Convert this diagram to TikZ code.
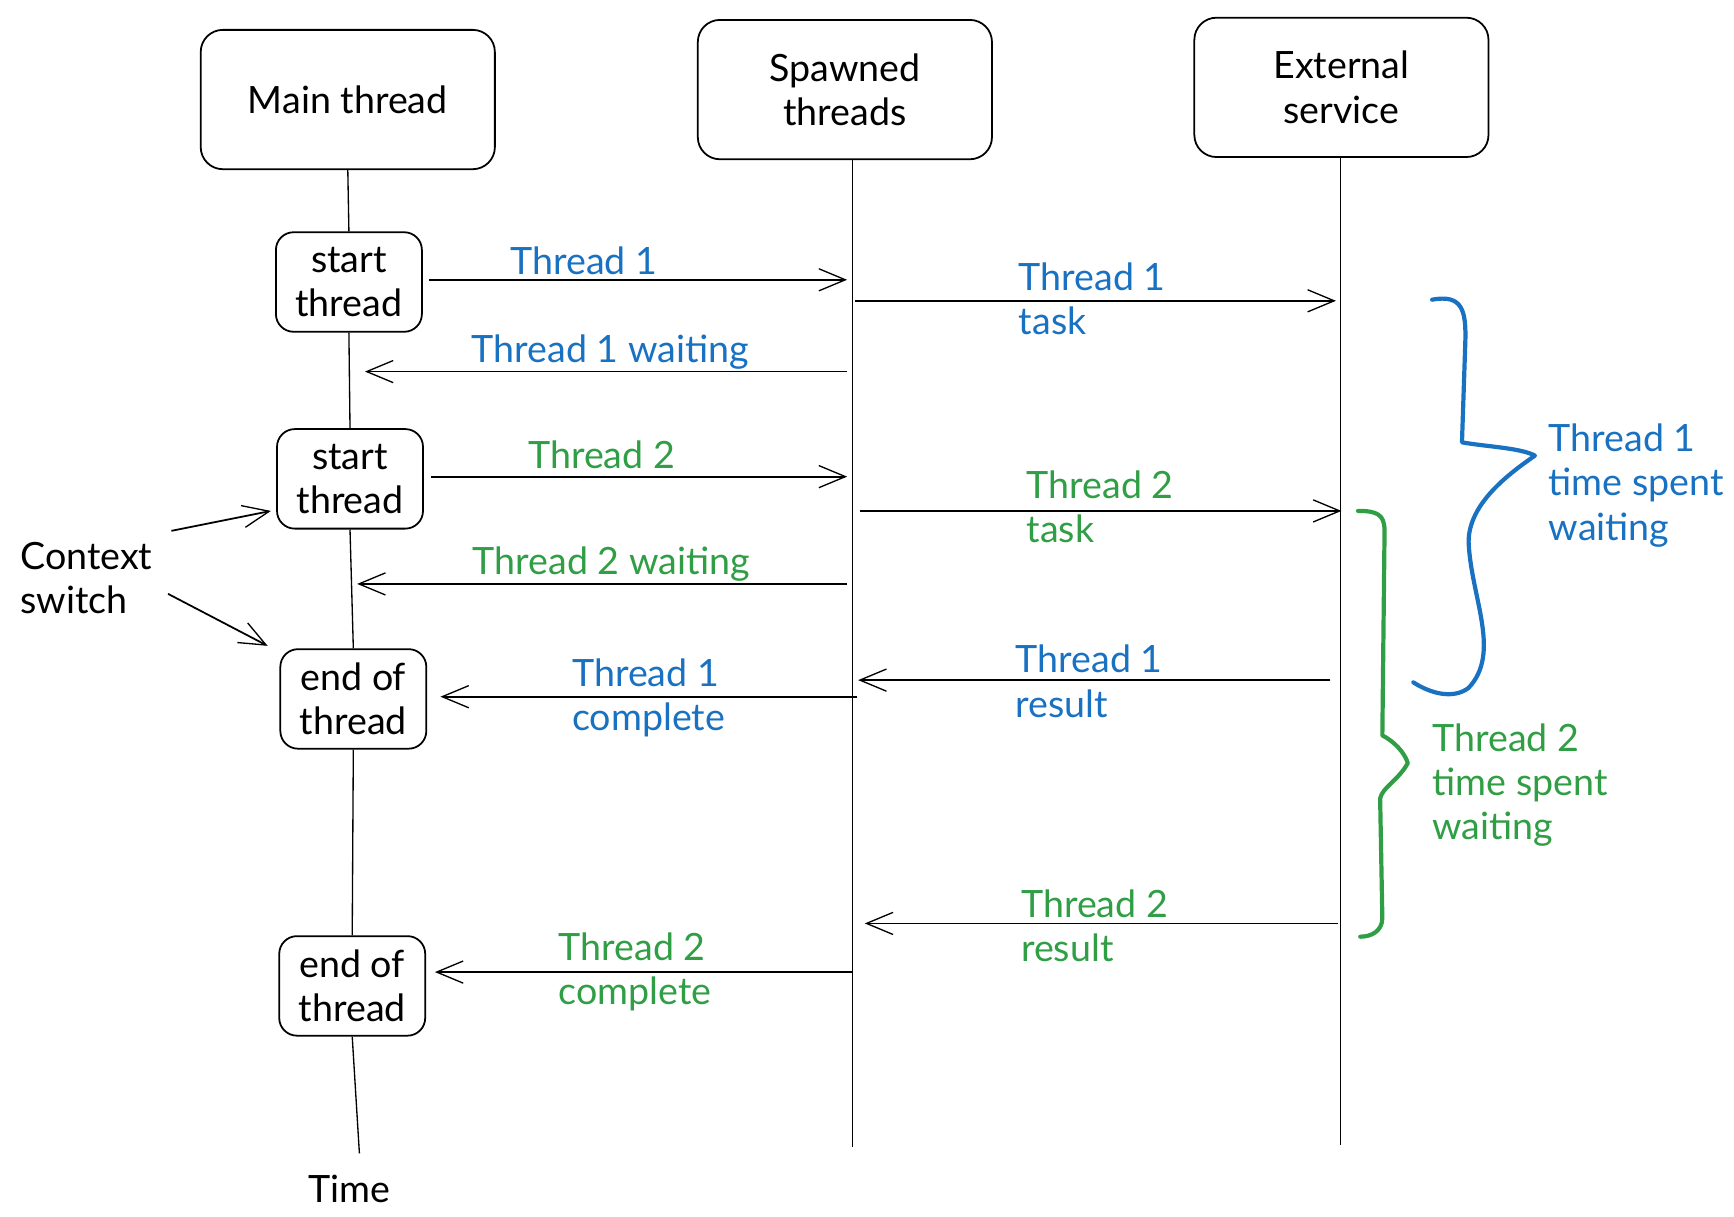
\documentclass[tikz,border=0pt]{standalone}
\usepackage{fontspec}
\setmainfont{Lato}
\usetikzlibrary{arrows.meta}
\definecolor{exblue}{HTML}{1971C2}
\definecolor{exgreen}{HTML}{2F9E44}
\begin{document}
\begin{tikzpicture}[x=0.5pt,y=-0.5pt,
  every node/.style={font=\fontsize{17}{20}\selectfont},
  bigbox/.style={draw, line width=0.8pt, rounded corners=10pt, minimum width=133pt, minimum height=63pt, align=center},
  smallbox/.style={draw, line width=0.8pt, rounded corners=8pt, minimum width=66pt, minimum height=45pt, align=center, inner sep=0pt},
  life/.style={line width=0.6pt},
  msg/.style={line width=0.8pt, -{Straight Barb[length=12pt,width=10pt,line width=0.6pt]}},
  lbl/.style={align=left, anchor=west, inner sep=0pt},
  bluetxt/.style={text=exblue},
  greentxt/.style={text=exgreen},
  brace/.style={line width=1.9pt, line cap=round, line join=round}
]
\useasboundingbox (0,0) rectangle (1568,1100);

% participants
\node[bigbox] (main) at (314.5,90) {Main thread};
\node[bigbox] (spawned) at (764,81) {Spawned\\threads};
\node[bigbox] (external) at (1213,79) {External\\service};

% main thread events
\node[smallbox] (st1) at (315.5,255) {start\\thread};
\node[smallbox] (st2) at (316.5,433) {start\\thread};
\node[smallbox] (end1) at (319.5,632) {end of\\thread};
\node[smallbox] (end2) at (318.5,891.5) {end of\\thread};
\node (time) at (316,1075) {Time};
\node[lbl] (ctx) at (18,523) {Context\\switch};

% lifelines
\coordinate (mainBot) at (325,1043);
\coordinate (spBot) at (771,1037);
\coordinate (exBot) at (1212,1035);
\draw[life] (main.south) -- (st1.north);
\draw[life] (st1.south) -- (st2.north);
\draw[life] (st2.south) -- (end1.north);
\draw[life] (end1.south) -- (end2.north);
\draw[life] (end2.south) -- (mainBot);
\draw[life] (spawned.south -| spBot) -- (spBot);
\draw[life] (external.south -| exBot) -- (exBot);

% message end points on the lifelines
\coordinate (sp1) at (766,253);
\coordinate (sp2a) at (773,272);   \coordinate (ex2) at (1208,272);
\coordinate (sp3) at (766,336);    \coordinate (mn3) at (330,336);
\coordinate (sp4) at (766,431);
\coordinate (sp5) at (778,462);    \coordinate (ex5) at (1213,462);
\coordinate (sp6) at (766,528);    \coordinate (mn6) at (323,528);
\coordinate (ex7) at (1203,615);   \coordinate (sp7) at (776,615);
\coordinate (sp8) at (775,630);
\coordinate (ex9) at (1210,835);   \coordinate (sp9) at (782,835);
\coordinate (sp10) at (771,879);
\coordinate (cx1) at (155,480);    \coordinate (cx1e) at (245,462);
\coordinate (cx2) at (152,537);    \coordinate (cx2e) at (242,584);

% messages
\draw[msg, shorten <=3pt] (st1.east |- sp1) -- (sp1);
\draw[msg] (sp2a) -- (ex2);
\draw[msg] (sp3) -- (mn3);
\draw[msg, shorten <=3pt] (st2.east |- sp4) -- (sp4);
\draw[msg] (sp5) -- (ex5);
\draw[msg] (sp6) -- (mn6);
\draw[msg] (ex7) -- (sp7);
\draw[msg, shorten >=6pt] (sp8) -- (end1.east |- sp8);
\draw[msg] (ex9) -- (sp9);
\draw[msg, shorten >=4pt] (sp10) -- (end2.east |- sp10);
\draw[msg] (cx1) -- (cx1e);
\draw[msg] (cx2) -- (cx2e);

% message labels
\node[bluetxt] (l1) at (528,236) {Thread 1};
\node[lbl,bluetxt] (l2) at (921,270) {Thread 1\\task};
\node[bluetxt] (l3) at (552,318) {Thread 1 waiting};
\node[greentxt] (l4) at (544,411) {Thread 2};
\node[lbl,greentxt] (l5) at (928,458) {Thread 2\\task};
\node[greentxt] (l6) at (553,510) {Thread 2 waiting};
\node[lbl,bluetxt] (l7) at (918,616) {Thread 1\\result};
\node[lbl,bluetxt] (l8) at (517,631) {Thread 1\\complete};
\node[lbl,greentxt] (l9) at (923,837) {Thread 2\\result};
\node[lbl,greentxt] (l10) at (505,879) {Thread 2\\complete};

% waiting braces
\draw[brace, exblue] (1295,271) .. controls (1322,266) and (1326,280) .. (1325,310)
  -- (1322,400) .. controls (1345,404) and (1375,405) .. (1388,412)
  .. controls (1365,428) and (1328,455) .. (1328,490)
  .. controls (1330,540) and (1358,590) .. (1328,622)
  .. controls (1315,632) and (1295,628) .. (1278,617);
\draw[brace, exgreen] (1228,462) .. controls (1245,462) and (1252,465) .. (1252,480)
  -- (1250,665) .. controls (1260,670) and (1270,680) .. (1273,690)
  .. controls (1265,705) and (1250,712) .. (1248,722)
  -- (1250,830) .. controls (1250,842) and (1240,847) .. (1230,847);
\node[lbl,bluetxt] (w1) at (1400,439) {Thread 1\\time spent\\waiting};
\node[lbl,greentxt] (w2) at (1295,710) {Thread 2\\time spent\\waiting};
\end{tikzpicture}
\end{document}
